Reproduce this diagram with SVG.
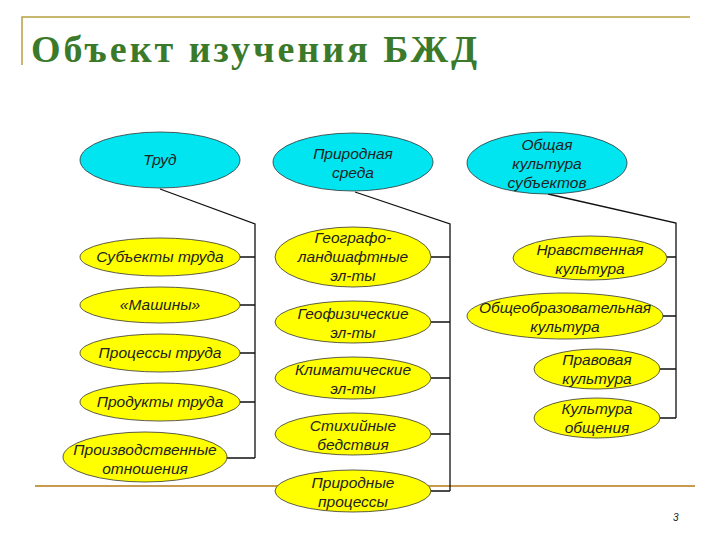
<svg xmlns="http://www.w3.org/2000/svg" width="720" height="540" viewBox="0 0 720 540">
<style>
.y{fill:#ffff00;stroke:#333;stroke-width:0.8}
.c{fill:#00e5f0;stroke:#333;stroke-width:0.8}
text.t{font-family:"Liberation Sans",Arial,sans-serif;font-style:italic;font-size:15.5px;fill:#222;text-anchor:middle}
#connectors path{fill:none;stroke:#111;stroke-width:1.3}
</style>
<rect width="720" height="540" fill="#fff"/>
<path d="M22 65 V17 H690" fill="none" stroke="#b8a040" stroke-width="1.5"/>
<text x="31" y="62" font-family="Liberation Serif,serif" font-weight="bold" font-size="38" letter-spacing="3" fill="#3a7a2a">Объект изучения БЖД</text>
<path d="M35 486 H695" stroke="#c89a50" stroke-width="2"/>
<text x="673" y="521" font-family="Liberation Sans,sans-serif" font-style="italic" font-size="10" fill="#222">3</text>
<g id="connectors">
<path d="M160 189 L255 224 V458 M240 257 H255 M240 305 H255 M240 353 H255 M240 402 H255 M227 458 H255"/>
<path d="M355 192 L450 224 V491 M431 257 H450 M431 322 H450 M431 378 H450 M431 434 H450 M431 491 H450"/>
<path d="M548 194 L676 223 V418 M667 257 H676 M663 316 H676 M660 369 H676 M660 418 H676"/>
</g>
<g id="trud"><ellipse class="c" cx="160" cy="160" rx="80" ry="28"/><text class="t" x="160" y="165">Труд</text></g>
<g id="subj"><ellipse class="y" cx="160" cy="257" rx="80" ry="19"/><text class="t" x="160" y="262">Субъекты труда</text></g>
<g id="mash"><ellipse class="y" cx="160" cy="305" rx="80" ry="18"/><text class="t" x="160" y="310">«Машины»</text></g>
<g id="proc"><ellipse class="y" cx="160" cy="353" rx="80" ry="19"/><text class="t" x="160" y="358">Процессы труда</text></g>
<g id="prod"><ellipse class="y" cx="160" cy="402" rx="80" ry="19"/><text class="t" x="160" y="407">Продукты труда</text></g>
<g id="proizv"><ellipse class="y" cx="145" cy="457" rx="82" ry="25"/><text class="t" x="145" y="455">Производственные</text><text class="t" x="145" y="474">отношения</text></g>
<g id="prir"><ellipse class="c" cx="353" cy="162" rx="80" ry="29"/><text class="t" x="353" y="159">Природная</text><text class="t" x="353" y="178">среда</text></g>
<g id="geogr"><ellipse class="y" cx="353" cy="257" rx="78" ry="30"/><text class="t" x="353" y="243">Географо-</text><text class="t" x="353" y="262">ландшафтные</text><text class="t" x="353" y="281">эл-ты</text></g>
<g id="geof"><ellipse class="y" cx="353" cy="322" rx="78" ry="21"/><text class="t" x="353" y="319">Геофизические</text><text class="t" x="353" y="338">эл-ты</text></g>
<g id="klim"><ellipse class="y" cx="353" cy="378" rx="78" ry="21"/><text class="t" x="353" y="375">Климатические</text><text class="t" x="353" y="394">эл-ты</text></g>
<g id="stih"><ellipse class="y" cx="353" cy="434" rx="78" ry="21"/><text class="t" x="353" y="431">Стихийные</text><text class="t" x="353" y="450">бедствия</text></g>
<g id="prpr"><ellipse class="y" cx="353" cy="491" rx="78" ry="21"/><text class="t" x="353" y="488">Природные</text><text class="t" x="353" y="507">процессы</text></g>
<g id="obsh"><ellipse class="c" cx="547" cy="163" rx="80" ry="31"/><text class="t" x="547" y="150">Общая</text><text class="t" x="547" y="169">культура</text><text class="t" x="547" y="188">субъектов</text></g>
<g id="nrav"><ellipse class="y" cx="590" cy="258" rx="77" ry="22"/><text class="t" x="590" y="255">Нравственная</text><text class="t" x="590" y="274">культура</text></g>
<g id="obr"><ellipse class="y" cx="565" cy="316" rx="98" ry="23"/><text class="t" x="565" y="313">Общеобразовательная</text><text class="t" x="565" y="332">культура</text></g>
<g id="prav"><ellipse class="y" cx="597" cy="369" rx="63" ry="20"/><text class="t" x="597" y="365">Правовая</text><text class="t" x="597" y="384">культура</text></g>
<g id="kult"><ellipse class="y" cx="597" cy="418" rx="63" ry="20"/><text class="t" x="597" y="414">Культура</text><text class="t" x="597" y="433">общения</text></g>
</svg>
